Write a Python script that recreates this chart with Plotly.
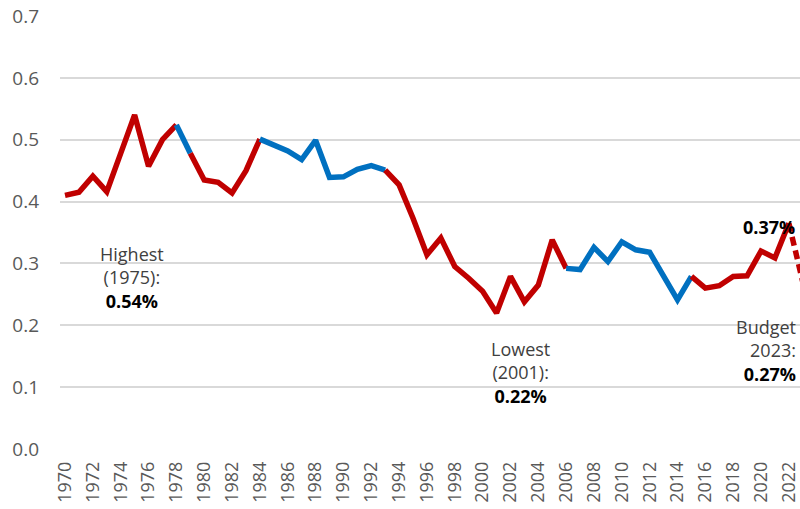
import plotly.graph_objects as go

years = list(range(1970, 2024))
values = [0.410, 0.415, 0.441, 0.416, 0.478, 0.540, 0.457, 0.500, 0.524, 0.478,
          0.435, 0.431, 0.414, 0.450, 0.501, 0.492, 0.482, 0.468, 0.499, 0.439,
          0.440, 0.452, 0.458, 0.451, 0.427, 0.373, 0.314, 0.341, 0.295, 0.276,
          0.255, 0.220, 0.279, 0.238, 0.265, 0.338, 0.292, 0.290, 0.326, 0.303,
          0.335, 0.322, 0.318, 0.279, 0.241, 0.279, 0.260, 0.264, 0.279, 0.280,
          0.320, 0.309, 0.365, 0.270]

# segments: (start year, end year, colour, dash)
RED = "#C00000"
BLUE = "#0070C0"
segments = [
    (1970, 1978, RED, "solid"),
    (1978, 1979, BLUE, "solid"),
    (1979, 1984, RED, "solid"),
    (1984, 1993, BLUE, "solid"),
    (1993, 2006, RED, "solid"),
    (2006, 2015, BLUE, "solid"),
    (2015, 2022, RED, "solid"),
    (2022, 2023, RED, "dash"),
]

tick_years = list(range(1970, 2023, 2))
y_ticks = [0.0, 0.1, 0.2, 0.3, 0.4, 0.5, 0.6, 0.7]

fig = go.Figure()
for s, e, col, dash in segments:
    i0, i1 = years.index(s), years.index(e)
    fig.add_trace(go.Scatter(
        x=years[i0:i1 + 1], y=values[i0:i1 + 1], mode="lines",
        line=dict(color=col, width=5.5, dash=dash if dash == "solid" else "9px,5px"),
        showlegend=False, hoverinfo="x+y"))

FONT = "Open Sans"
ann_font = dict(family=FONT, size=18, color="#404040")
fig.add_annotation(x=1974.8, y=0.277, xref="x", yref="y", showarrow=False,
                   text="Highest<br>(1975):<br><b style='color:#000'>0.54%</b>",
                   font=ann_font, align="center")
fig.add_annotation(x=2002.7, y=0.123, xref="x", yref="y", showarrow=False,
                   text="Lowest<br>(2001):<br><b style='color:#000'>0.22%</b>",
                   font=ann_font, align="center")
fig.add_annotation(x=0.997, y=0.159, xref="paper", yref="y", showarrow=False,
                   xanchor="right",
                   text="Budget<br>2023:<br><b style='color:#000'>0.27%</b>",
                   font=ann_font, align="right")
fig.add_annotation(x=2020.6, y=0.359, xref="x", yref="y", showarrow=False,
                   text="<b>0.37%</b>", font=dict(family=FONT, size=18, color="#000"))

fig.update_layout(
    width=800, height=509,
    margin=dict(l=60, r=0, t=16, b=60),
    plot_bgcolor="white", paper_bgcolor="white",
    font=dict(family=FONT, color="#595959"),
    xaxis=dict(range=[1969.64, 2022.8], tickvals=tick_years,
               ticktext=[str(y) for y in tick_years], tickangle=-90,
               showgrid=False, zeroline=False, showline=False,
               tickfont=dict(size=18, color="#595959"), ticklabelstandoff=8),
    yaxis=dict(range=[0, 0.7], tickvals=y_ticks,
               ticktext=[f"{v:.1f}" for v in y_ticks],
               showgrid=True, gridcolor="#D9D9D9", gridwidth=1.5,
               zeroline=False, showline=False,
               tickfont=dict(size=19, color="#595959"), ticklabelstandoff=20),
)

fig.write_html("out.html", config={"displayModeBar": False})
with open("out.html", encoding="utf-8") as f:
    html = f.read()
html = html.replace("<head>", "<head><style>html,body{margin:0;padding:0;overflow:hidden;}</style>", 1)
with open("out.html", "w", encoding="utf-8") as f:
    f.write(html)
